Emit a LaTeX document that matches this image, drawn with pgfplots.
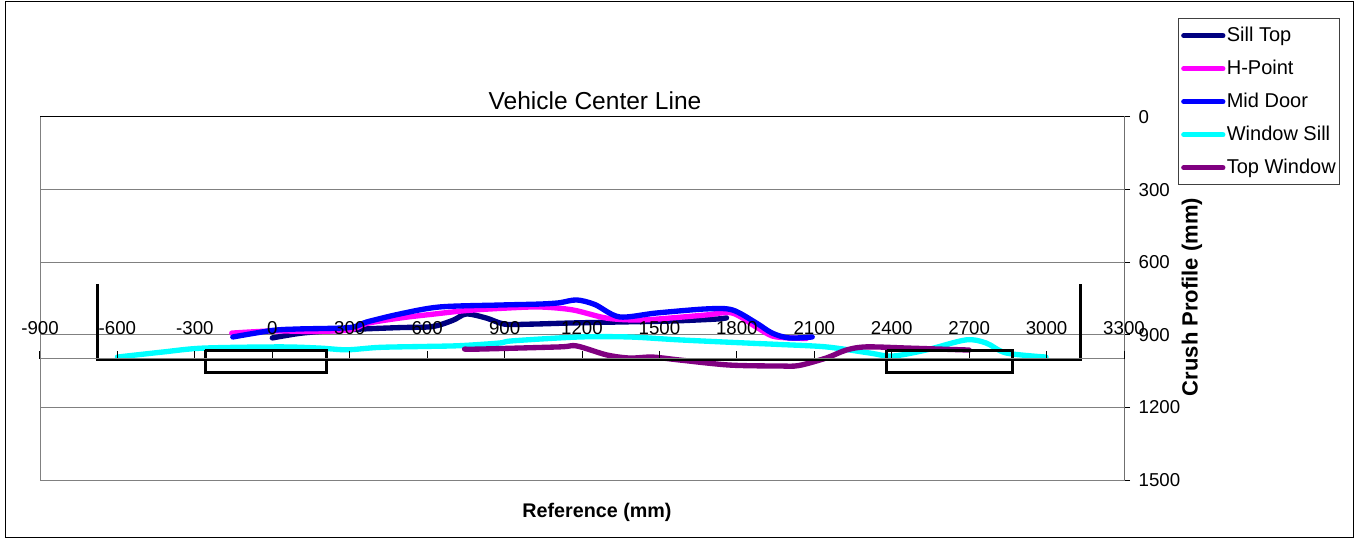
\documentclass[border=0pt]{standalone}
\usepackage{fontspec}
\setmainfont{Liberation Sans}
\usepackage{pgfplots}
\pgfplotsset{compat=1.18}
\definecolor{cNavy}{HTML}{000080}
\definecolor{cMag}{HTML}{FF00FF}
\definecolor{cBlue}{HTML}{0000FF}
\definecolor{cCyan}{HTML}{00FFFF}
\definecolor{cPurp}{HTML}{800080}
\definecolor{cGrid}{HTML}{808080}
\begin{document}
\begin{tikzpicture}
\path[use as bounding box] (-30pt,-45.75pt) rectangle (991.5pt,360pt);
\fill[white] (-30pt,-45.75pt) rectangle (991.5pt,360pt);
\begin{axis}[
  at={(0pt,0pt)}, anchor=south west,
  scale only axis, width=813pt, height=272.25pt,
  xmin=-900, xmax=3300, ymin=0, ymax=1500, y dir=reverse,
  xtick=\empty,
  ytick={0,300,...,1500},
  ymajorgrids, grid style={draw=cGrid, line width=0.75pt},
  ytick pos=right, yticklabel pos=right,
  tick align=outside, major tick length=4.5pt,
  ytick style={black, line width=0.75pt},
  axis line style={draw=cGrid, line width=0.75pt},
  yticklabel style={xshift=3pt, font=\fontsize{14}{16}\selectfont, /pgf/number format/assume math mode=true, /pgf/number format/1000 sep={}},
  title={Vehicle Center Line},
  title style={at={(axis description cs:0.512,1.024)}, anchor=center, font=\fontsize{18.4}{21}\selectfont},
  xlabel={\textbf{Reference (mm)}},
  xlabel style={at={(axis description cs:0.5138,-0.0882)}, anchor=center, font=\fontsize{14.8}{17}\selectfont},
  ylabel={\textbf{Crush Profile (mm)}},
  ylabel style={at={(axis description cs:1.0627,0.5041)}, anchor=center, font=\fontsize{16.5}{19}\selectfont},
  legend style={at={(axis description cs:1.0498,1.2727)}, anchor=north west, draw=black!75, fill=white, line width=0.75pt,
    font=\fontsize{15}{17}\selectfont, inner xsep=2pt, inner ysep=5.9pt, row sep=10.75pt, column sep=0pt,
    nodes={inner xsep=1pt, inner ysep=0pt, text height=11pt, text depth=3pt}},
  legend cell align=left,
  legend image code/.code={\path (0pt,0pt) -- (29.25pt,0pt); \draw[#1, line width=3.75pt, line cap=round] (1.875pt,0pt) -- (27.375pt,0pt);},
  every axis plot/.append style={line width=4pt, line cap=round, line join=round},
]
\addplot[cNavy, smooth] coordinates {(0,913) (100,895) (200,885) (350,876) (500,870) (620,866) (700,840) (752,814) (830,831) (900,856) (1000,856) (1165,851) (1350,847) (1550,843) (1720,835) (1760,830)};
\addlegendentry{Sill Top}
\addplot[cMag, smooth] coordinates {(-157,893) (0,884) (150,886) (300,880) (366,853) (500,830) (621,815) (750,800) (900,790) (1035,785) (1163,797) (1295,831) (1422,839) (1550,830) (1682,818) (1782,810) (1875,868) (1937,905) (2003,913) (2070,915)};
\addlegendentry{H-Point}
\addplot[cBlue, smooth] coordinates {(-153,909) (0,882) (100,876) (300,870) (366,847) (494,814) (648,785) (881,777) (1035,773) (1110,768) (1179,756) (1250,775) (1345,826) (1488,810) (1682,793) (1782,797) (1875,851) (1937,893) (2003,913) (2092,909)};
\addlegendentry{Mid Door}
\addplot[cCyan, smooth] coordinates {(-600,992) (-423,971) (-268,955) (30,950) (185,955) (290,962) (415,952) (600,948) (725,945) (880,934) (931,925) (1190,909) (1384,909) (1577,921) (1837,934) (1965,940) (2146,950) (2313,975) (2402,988) (2533,963) (2688,921) (2766,934) (2843,975) (2998,992)};
\addlegendentry{Window Sill}
\addplot[cPurp, smooth] coordinates {(745,959) (803,959) (1113,950) (1179,946) (1295,983) (1384,996) (1473,992) (1577,1004) (1771,1025) (1965,1029) (2040,1027) (2146,996) (2224,963) (2301,950) (2468,955) (2700,963)};
\addlegendentry{Top Window}
% vehicle outline
\addplot[black, line width=2.25pt, line cap=butt, line join=miter, forget plot] coordinates {(-677,690) (-677,1003) (3130,1003) (3130,690)};
\addplot[black, line width=2.25pt, line cap=butt, line join=miter, forget plot] coordinates {(-259,963) (209,963) (209,1054) (-259,1054) (-259,963)};
\addplot[black, line width=2.25pt, line cap=butt, line join=miter, forget plot] coordinates {(2381,963) (2869,963) (2869,1054) (2381,1054) (2381,963)};
\draw[black, line width=0.75pt] (axis description cs:0,1) -- (axis description cs:1,1) -- (axis description cs:1,0);
\end{axis}
\begin{axis}[
  at={(0pt,90.75pt)}, anchor=south west,
  scale only axis, width=813pt, height=20pt,
  xmin=-900, xmax=3300, ymin=0, ymax=1,
  axis y line=none, axis x line=bottom,
  x axis line style={-, draw=cGrid, line width=0.75pt},
  xtick={-900,-600,...,3300},
  tick align=inside, major tick length=6pt,
  xtick style={black, line width=0.75pt},
  xticklabel style={anchor=center, yshift=23.25pt, font=\fontsize{14}{16}\selectfont, /pgf/number format/assume math mode=true, /pgf/number format/1000 sep={}},
]
\addplot[draw=none] coordinates {(0,0.5)};
\end{axis}
\draw[black, line width=0.75pt] (-25.5pt,-43.5pt) rectangle (984.75pt,358.5pt);
\end{tikzpicture}
\end{document}
